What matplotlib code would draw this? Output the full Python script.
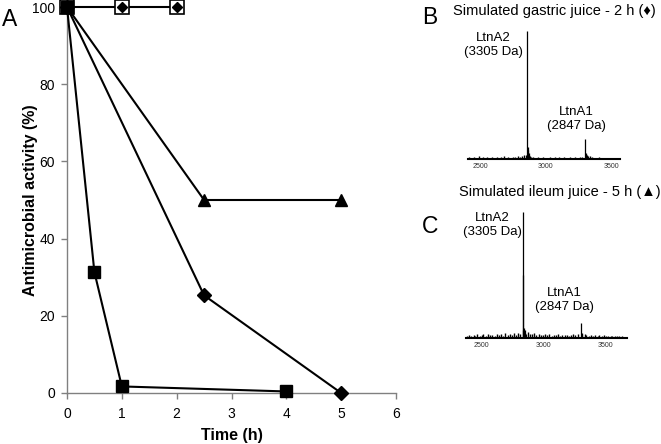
import numpy as np
import matplotlib
matplotlib.use("Agg")
import matplotlib.pyplot as plt

plt.rcParams["font.family"] = ["Liberation Sans", "DejaVu Sans"]

# panel A: antimicrobial activity over time
t_sq = [0, 0.5, 1, 4]
act_sq = [100, 31.3, 1.7, 0.4]
t_dm = [0, 2.5, 5]
act_dm = [100, 25.3, 0]
t_tr = [0, 2.5, 5]
act_tr = [100, 50, 50]
t_ctrl = [0, 1, 2]
act_ctrl = [100, 100, 100]

# panel B: spectrum after gastric juice (m/z, relative intensity)
b_peak_mz = [2852, 2856, 2860, 2864, 2868, 2872, 2876, 3295, 3300, 3305, 3310, 3315]
b_peak_int = [3, 100, 9, 7, 5, 3, 2, 16, 5, 4, 3, 2]
b_noise_mz = [2420, 2440, 2455, 2470, 2490, 2505, 2520, 2540, 2555, 2575, 2590,
              2610, 2625, 2645, 2660, 2680, 2695, 2715, 2730, 2750, 2765, 2785,
              2800, 2815, 2830, 2890, 2905, 2925, 2940, 2960, 2975, 2995, 3010,
              3030, 3045, 3065, 3080, 3100, 3115, 3135, 3150, 3170, 3185, 3205,
              3220, 3240, 3255, 3275, 3330, 3345, 3365, 3380, 3400, 3415, 3435,
              3450, 3470, 3485, 3505, 3520, 3540]
b_noise_int = [1.2, 0.8, 1.6, 1.0, 2.0, 0.7, 1.4, 1.1, 1.8, 0.9, 1.3,
               0.6, 1.7, 1.0, 1.2, 2.1, 0.8, 1.5, 1.1, 1.9, 1.3, 2.4,
               1.6, 2.2, 2.8, 1.8, 1.2, 1.0, 1.5, 0.9, 1.3, 1.1, 0.7,
               1.4, 1.0, 1.6, 0.8, 1.2, 1.0, 1.3, 0.7, 1.1, 1.5, 0.9,
               1.2, 1.0, 1.4, 1.8, 2.0, 1.3, 1.1, 0.8, 1.2, 0.9, 1.0,
               0.7, 1.1, 0.8, 0.9, 0.6, 0.8]

# panel C: spectrum after ileum juice
c_peak_mz = [2836, 2839, 2841, 2848, 2852, 2858, 2864, 3306, 3312, 3318]
c_peak_int = [6, 100, 50, 8, 6, 4, 3, 12, 4, 3]
c_noise_mz = [2390, 2405, 2420, 2440, 2455, 2470, 2490, 2505, 2520, 2540, 2555,
              2575, 2590, 2610, 2625, 2645, 2660, 2680, 2695, 2715, 2730, 2750,
              2765, 2785, 2800, 2815, 2880, 2895, 2910, 2930, 2945, 2965, 2980,
              3000, 3015, 3035, 3050, 3070, 3085, 3105, 3120, 3140, 3155, 3175,
              3190, 3210, 3225, 3245, 3260, 3280, 3335, 3350, 3370, 3385, 3405,
              3420, 3440, 3455, 3475, 3490, 3510, 3525, 3545, 3560, 3580, 3600,
              3615, 3635, 3650]
c_noise_int = [1.5, 2.0, 1.2, 2.6, 1.8, 3.0, 1.4, 2.2, 2.8, 1.6, 3.2,
               2.0, 2.5, 1.8, 3.4, 2.2, 2.9, 1.9, 3.6, 2.4, 3.0, 2.1,
               3.8, 2.6, 4.2, 3.5, 5.0, 3.2, 2.8, 3.6, 2.4, 3.1, 2.0,
               2.7, 3.3, 2.2, 2.9, 1.8, 2.6, 2.1, 3.0, 1.7, 2.4, 2.0,
               2.7, 1.9, 2.3, 3.0, 2.5, 3.4, 2.8, 2.2, 1.9, 2.6, 1.7,
               2.3, 1.8, 2.1, 1.6, 2.0, 1.5, 1.9, 1.4, 1.7, 1.3, 1.6,
               1.2, 1.4, 1.1]

fig = plt.figure(figsize=(6.61, 4.44), dpi=100)

# ---- panel A ----
ax = fig.add_axes([67 / 661, 1 - 393 / 444, 329 / 661, 386 / 444])
ax.plot(t_ctrl, act_ctrl, color="black", lw=1.5, marker="s", ms=9.5,
        mfc="white", mec="black", mew=1.2, clip_on=False, zorder=3)
ax.plot(t_ctrl, act_ctrl, ls="none", marker="D", ms=5.5, color="black",
        clip_on=False, zorder=4)
ax.plot(t_tr, act_tr, color="black", lw=1.5, marker="^", ms=8.5,
        clip_on=False, zorder=3)
ax.plot(t_dm, act_dm, color="black", lw=1.5, marker="D", ms=7,
        clip_on=False, zorder=3)
ax.plot(t_sq, act_sq, color="black", lw=1.5, marker="s", ms=8,
        clip_on=False, zorder=5)

ax.set_xlim(0, 6)
ax.set_ylim(0, 100)
ax.set_xticks(range(0, 7))
ax.set_yticks(range(0, 101, 20))
for s in ["top", "right"]:
    ax.spines[s].set_visible(False)
for s in ["left", "bottom"]:
    ax.spines[s].set_color("#808080")
    ax.spines[s].set_linewidth(1)
ax.tick_params(direction="out", length=4, width=1, color="#808080",
               labelsize=10)
ax.tick_params(axis="y", pad=4.5)
ax.tick_params(axis="x", pad=6)

fig.text(31 / 661, 1 - 200 / 444, "Antimicrobial activity (%)", rotation=90,
         ha="center", va="center", fontsize=11.5, fontweight="bold")
fig.text(232 / 661, 1 - 435 / 444, "Time (h)", ha="center", va="center",
         fontsize=11.5, fontweight="bold")
fig.text(10 / 661, 1 - 20 / 444, "A", ha="center", va="center", fontsize=16.5)


def draw_spectrum(rect, xlim, peak_mz, peak_int, noise_mz, noise_int):
    axs = fig.add_axes(rect)
    axs.vlines(noise_mz, 0, noise_int, color="black", lw=1.0)
    axs.vlines(peak_mz, 0, peak_int, color="black", lw=0.9)
    axs.set_xlim(*xlim)
    axs.set_ylim(0, 100)
    for s in ["top", "right", "left"]:
        axs.spines[s].set_visible(False)
    axs.spines["bottom"].set_linewidth(1.5)
    axs.set_yticks([])
    axs.set_xticks([2500, 3000, 3500])
    axs.tick_params(axis="x", length=0, labelsize=5, pad=3, labelcolor="#333333")
    return axs


# ---- panel B ----
draw_spectrum([468 / 661, 1 - 159 / 444, 152 / 661, 128 / 444], (2409, 3561),
              b_peak_mz, b_peak_int, b_noise_mz, b_noise_int)
fig.text(430 / 661, 1 - 17 / 444, "B", ha="center", va="center", fontsize=16.5)
fig.text(554 / 661, 1 - 11 / 444, "Simulated gastric juice - 2 h (\u2666)",
         ha="center", va="center", fontsize=10.5)
fig.text(493 / 661, 1 - 45 / 444, "LtnA2\n(3305 Da)", ha="center", va="center",
         fontsize=9.5, linespacing=1.15)
fig.text(576 / 661, 1 - 119 / 444, "LtnA1\n(2847 Da)", ha="center", va="center",
         fontsize=9.5, linespacing=1.15)

# ---- panel C ----
draw_spectrum([466 / 661, 1 - 338 / 444, 161 / 661, 126 / 444], (2379, 3677),
              c_peak_mz, c_peak_int, c_noise_mz, c_noise_int)
fig.text(430 / 661, 1 - 226 / 444, "C", ha="center", va="center", fontsize=16.5)
fig.text(560 / 661, 1 - 192 / 444, "Simulated ileum juice - 5 h (\u25b2)",
         ha="center", va="center", fontsize=10.5)
fig.text(492 / 661, 1 - 225 / 444, "LtnA2\n(3305 Da)", ha="center", va="center",
         fontsize=9.5, linespacing=1.15)
fig.text(564 / 661, 1 - 300 / 444, "LtnA1\n(2847 Da)", ha="center", va="center",
         fontsize=9.5, linespacing=1.15)

fig.savefig("out.png", dpi=100)
